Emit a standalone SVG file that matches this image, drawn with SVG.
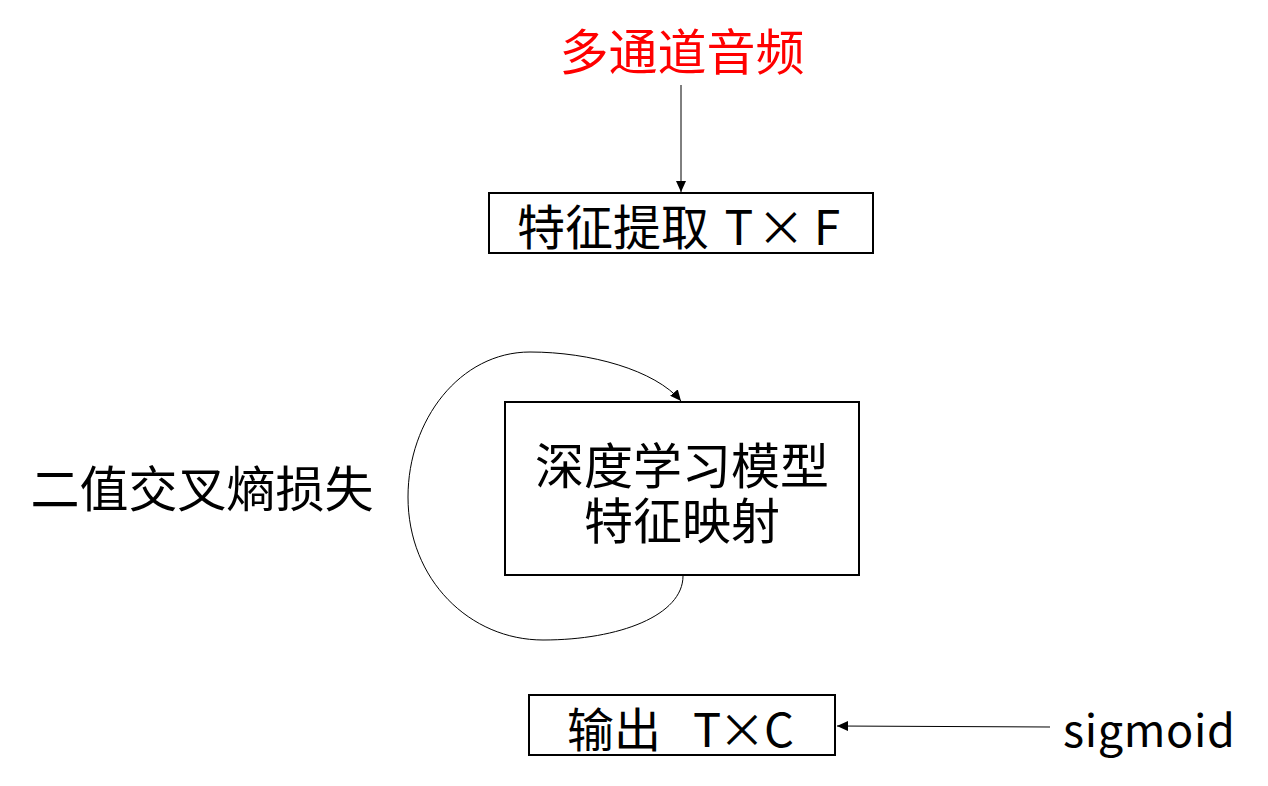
<svg xmlns="http://www.w3.org/2000/svg" width="1268" height="786" viewBox="0 0 1268 786">
  <style>
    .box { fill: #ffffff; stroke: #000000; stroke-width: 2; }
    .t { font-family: "Noto Sans CJK SC", "Noto Sans", sans-serif; fill: #000000; }
    .conn { fill: none; stroke: #000000; stroke-width: 1; }
  </style>
  <defs>
    <marker id="arrow" markerUnits="userSpaceOnUse" markerWidth="12" markerHeight="10" refX="11" refY="5" orient="auto">
      <path d="M0,0 L11,5 L0,10 Z" fill="#000000"/>
    </marker>
  </defs>
  <rect width="1268" height="786" fill="#ffffff"/>

  <g id="connectors">
    <line class="conn" x1="681" y1="85" x2="681" y2="192" marker-end="url(#arrow)"/>
    <path class="conn" d="M683,576 C683,615 620,640 543,640 C470,640 408,580 408,497 C408,420 460,352 530,352 C590,352 655,370 681,401" marker-end="url(#arrow)"/>
    <line class="conn" x1="1050" y1="727" x2="837" y2="726" marker-end="url(#arrow)"/>
  </g>

  <g id="title">
    <text class="t" x="682" y="70" font-size="49" text-anchor="middle" style="fill:#ff0000">多通道音频</text>
  </g>

  <g id="feature">
    <rect class="box" x="489" y="193" width="384" height="60"/>
    <text class="t" x="517" y="245" font-size="48">特征提取 <tspan x="739" text-anchor="middle">T</tspan><tspan x="781" text-anchor="middle">×</tspan><tspan x="827" text-anchor="middle">F</tspan></text>
  </g>

  <g id="model">
    <rect class="box" x="505" y="402" width="354" height="173"/>
    <text class="t" font-size="49" text-anchor="middle"><tspan x="682" y="484">深度学习模型</tspan><tspan x="682" y="539">特征映射</tspan></text>
  </g>

  <g id="loss">
    <text class="t" x="202" y="507" font-size="49" text-anchor="middle">二值交叉熵损失</text>
  </g>

  <g id="output">
    <rect class="box" x="529" y="695" width="306" height="60"/>
    <text class="t" x="567" y="747" font-size="47">输出 <tspan x="707" text-anchor="middle">T</tspan><tspan x="742" text-anchor="middle">×</tspan><tspan x="779" text-anchor="middle">C</tspan></text>
  </g>

  <g id="sigmoid">
    <text class="t" x="1063" y="747" font-size="45" textLength="172" lengthAdjust="spacing">sigmoid</text>
  </g>
</svg>
